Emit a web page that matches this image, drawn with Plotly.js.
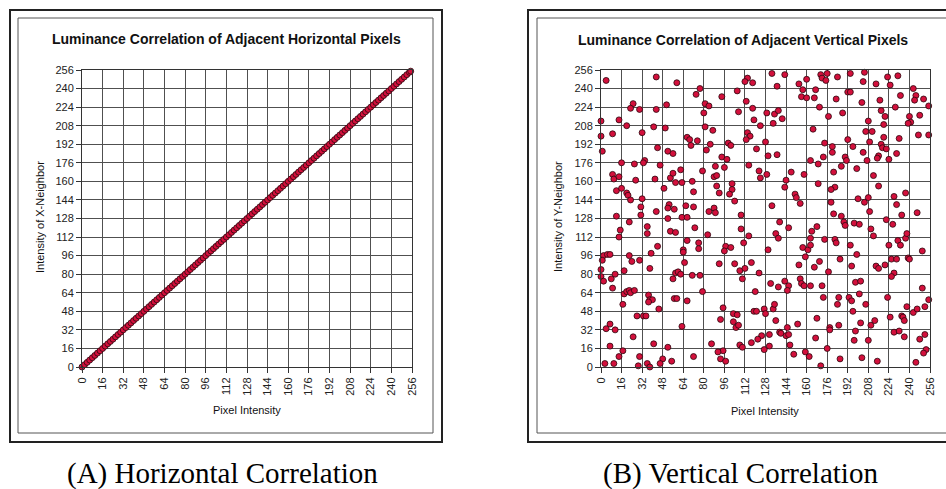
<!DOCTYPE html>
<html>
<head>
<meta charset="utf-8">
<script src="https://cdn.plot.ly/plotly-3.0.1.min.js"></script>
<style>
html,body{margin:0;padding:0;background:#fff;}
#chart{width:946px;height:489px;}
</style>
</head>
<body>
<div id="chart"></div>
<script>
// ---------- DATA ----------
const tickValues = [0,16,32,48,64,80,96,112,128,144,160,176,192,208,224,240,256];
const tickLabels = ["0","16","32","48","64","80","96","112","128","144","160","176","192","208","224","240","256"];

const titleA = "Luminance Correlation of Adjacent Horizontal Pixels";
const titleB = "Luminance Correlation of Adjacent Vertical Pixels";
const xTitle = "Pixel Intensity";
const yTitleA = "Intensity of X-Neighbor";
const yTitleB = "Intensity of Y-Neighbor";
const captionA = "(A) Horizontal Correlation";
const captionB = "(B) Vertical Correlation";

// Horizontal neighbours (points lie on the diagonal)
const hPixel = [0,2,4,6,8,10,12,14,16,18,20,22,24,26,28,30,32,34,36,38,40,42,44,46,48,50,52,54,56,58,60,62,64,66,68,70,72,74,76,78,80,82,84,86,88,90,92,94,96,98,100,102,104,106,108,110,112,114,116,118,120,122,124,126,128,130,132,134,136,138,140,142,144,146,148,150,152,154,156,158,160,162,164,166,168,170,172,174,176,178,180,182,184,186,188,190,192,194,196,198,200,202,204,206,208,210,212,214,216,218,220,222,224,226,228,230,232,234,236,238,240,242,244,246,248,250,252,254,255];
const hNeighbor = [0,2,4,6,8,10,12,14,16,18,20,22,24,26,28,30,32,34,36,38,40,42,44,46,48,50,52,54,56,58,60,62,64,66,68,70,72,74,76,78,80,82,84,86,88,90,92,94,96,98,100,102,104,106,108,110,112,114,116,118,120,122,124,126,128,130,132,134,136,138,140,142,144,146,148,150,152,154,156,158,160,162,164,166,168,170,172,174,176,178,180,182,184,186,188,190,192,194,196,198,200,202,204,206,208,210,212,214,216,218,220,222,224,226,228,230,232,234,236,238,240,242,244,246,248,250,252,254,255];

// Vertical neighbours (scattered)
const vPixel = [
4,43,59,77,74,25,23,30,43,51,0,14,20,41,50,32,9,0,67,69,75,70,1,44,52,56,16,26,34,33,46,62,9,10,14,27,42,54,56,58,63,71,12,16,20,21,23,32,49,72,31,53,52,57,66,72,
133,143,114,112,118,137,154,160,157,156,160,
106,94,81,84,113,80,107,118,129,135,138,141,134,119,124,
81,87,114,116,113,128,99,101,85,82,121,94,98,130,137,
79,89,96,115,123,124,129,148,158,
88,90,90,102,102,100,92,104,144,143,151,152,155,133,88,
171,172,175,176,184,194,205,204,214,223,231,225,243,245,244,251,255,233,
167,166,170,183,192,194,203,217,229,188,177,218,221,240,248,241,239,208,220,
165,206,211,220,232,247,255,192,209,174,180,180,196,218,219,222,204,230,216,215,224,190,191,207,173,163,169,187,181,199,212,
169,182,179,216,200,205,208,179,228,237,230,
12,31,43,22,36,36,52,63,67,54,58,73,15,14,67,76,76,44,39,64,64,65,
2,5,7,1,22,24,30,38,0,18,0,2,8,11,58,60,62,56,71,
9,18,20,22,23,26,37,38,40,37,17,45,57,59,67,
28,33,35,7,4,11,63,25,41,7,17,14,30,52,48,55,72,3,10,29,36,38,46,
84,89,109,139,146,109,115,111,136,138,83,
77,79,97,96,101,130,157,161,159,
92,104,108,112,117,110,123,154,
132,138,143,146,145,155,156,158,120,
95,119,121,127,128,134,135,93,103,106,103,105,107,136,153,
145,139,140,144,146,147,131,125,122,117,131,127,108,110,86,95,91,93,97,150,159,162,
181,187,189,190,197,201,209,222,227,234,246,
164,163,163,168,174,182,183,194,210,212,224,231,233,237,238,250,
170,166,177,186,199,195,214,216,221,226,230,228,226,239,240,
163,172,198,202,250,173,185,184,193,195,201,206,223,
196,168,185,202,210,213,225,238,234,235,236,243,246,252,255,
178,178,167,198,197,208,228,232,236,248,252,
176,171,186,203,215,253,251,245
];
const vNeighbor = [
247,250,245,240,235,227,223,222,222,226,212,213,208,207,206,202,201,199,198,196,195,191,186,189,186,184,176,175,178,176,174,170,166,162,164,161,162,163,167,159,159,160,152,154,150,148,144,145,154,151,138,140,137,136,139,138,
253,252,249,246,245,242,244,248,239,233,232,
238,233,227,225,229,219,220,223,219,218,221,214,210,213,208,
207,204,202,199,196,194,193,191,192,187,188,181,179,182,183,
169,173,172,174,169,163,166,168,166,
164,165,156,158,153,149,150,143,161,155,149,146,141,139,137,
252,249,247,253,250,253,254,246,244,250,251,243,240,234,230,231,225,234,
239,232,224,231,237,237,228,230,224,219,216,221,216,216,217,211,210,212,209,
205,203,203,198,197,200,200,196,194,193,190,185,190,192,189,188,185,184,182,180,179,181,178,178,181,178,175,173,168,171,165,
158,155,153,156,145,142,146,142,147,150,140,
130,131,134,125,121,115,128,129,129,117,116,120,118,112,109,107,102,104,98,101,99,90,
96,97,97,92,96,91,92,85,84,83,78,74,76,80,81,82,80,76,79,
68,63,65,66,64,66,62,58,58,56,54,50,59,59,57,
44,44,44,37,33,32,35,26,20,18,14,9,9,17,7,5,9,3,3,1,3,0,3,
134,133,131,125,120,119,113,107,115,111,114,
79,65,104,100,103,101,103,101,95,
89,89,83,85,90,76,81,88,
72,69,74,70,66,76,72,70,65,
51,48,48,50,46,50,54,41,46,45,39,34,36,40,37,
34,30,29,27,28,19,28,27,24,21,18,15,19,17,20,14,13,7,5,11,13,9,
132,130,125,122,124,123,134,127,123,131,133,
117,111,105,121,110,110,107,105,119,113,105,109,105,111,115,100,
91,86,82,93,97,87,87,85,88,93,93,81,78,94,93,
70,70,73,74,68,60,60,54,60,57,63,54,60,
48,42,36,38,36,40,43,52,44,43,40,47,50,52,58,
34,32,25,31,23,23,30,31,26,24,28,
16,1,7,8,5,15,12,4
];

// ---------- LAYOUT HELPERS (pixel -> paper) ----------
const W = 946, H = 489;
const fx = p => p / W;
const fy = p => 1 - p / H;

const SANS = "Liberation Sans, Arial, Helvetica, sans-serif";
const SERIF = "Liberation Serif, Times New Roman, serif";
const GRID = "#505050";

function axis(domain, anchor, isX) {
  return {
    domain: domain,
    anchor: anchor,
    range: [0, 256],
    autorange: false,
    fixedrange: true,
    tickmode: "array",
    tickvals: tickValues,
    ticktext: tickLabels,
    tickangle: isX ? -90 : 0,
    ticks: "outside",
    ticklen: 5,
    tickwidth: 1,
    tickcolor: "#333",
    tickfont: {family: SANS, size: 11, color: "#222"},
    showgrid: true,
    gridcolor: GRID,
    gridwidth: 1,
    zeroline: false,
    showline: true,
    linecolor: "#333",
    linewidth: 1,
    mirror: true
  };
}

const markerStyle = {
  size: 6,
  color: "#d3103c",
  line: {color: "#2a060d", width: 0.8}
};

const traces = [
  {
    type: "scatter", mode: "markers",
    x: hPixel, y: hNeighbor,
    xaxis: "x", yaxis: "y",
    marker: markerStyle,
    cliponaxis: false,
    hoverinfo: "x+y"
  },
  {
    type: "scatter", mode: "markers",
    x: vPixel, y: vNeighbor,
    xaxis: "x2", yaxis: "y2",
    marker: markerStyle,
    cliponaxis: false,
    hoverinfo: "x+y"
  }
];

const yDom = [fy(367), fy(70)];

function rect(x0, y0, x1, y1, color, width) {
  return {
    type: "rect", xref: "paper", yref: "paper",
    x0: fx(x0), x1: fx(x1), y0: fy(y1), y1: fy(y0),
    line: {color: color, width: width},
    fillcolor: "rgba(0,0,0,0)",
    layer: "below"
  };
}

function note(text, xp, yp, size, opts) {
  return Object.assign({
    text: text, xref: "paper", yref: "paper",
    x: fx(xp), y: fy(yp),
    xanchor: "center", yanchor: "middle",
    showarrow: false,
    font: {family: SANS, size: size, color: "#111"}
  }, opts || {});
}

const layout = {
  width: W, height: H,
  margin: {l: 0, r: 0, t: 0, b: 0, pad: 0},
  paper_bgcolor: "#ffffff",
  plot_bgcolor: "#ffffff",
  showlegend: false,
  xaxis: axis([fx(82), fx(412)], "y", true),
  yaxis: axis(yDom, "x", false),
  xaxis2: axis([fx(601), fx(930)], "y2", true),
  yaxis2: axis(yDom, "x2", false),
  shapes: [
    rect(10, 10, 442, 442, "#222", 2),
    rect(18, 18, 433, 433, "#555", 1),
    rect(528, 10, 966, 442, "#222", 2),
    rect(537, 18, 957, 433, "#555", 1)
  ],
  annotations: [
    note("<b>" + titleA + "</b>", 226, 39, 14),
    note("<b>" + titleB + "</b>", 743, 40, 14),
    note(xTitle, 247, 410, 11),
    note(xTitle, 765, 411, 11),
    note(yTitleA, 40, 217, 11, {textangle: -90}),
    note(yTitleB, 558, 217, 11, {textangle: -90}),
    note(captionA, 222, 473, 29, {font: {family: SERIF, size: 29, color: "#000"}}),
    note(captionB, 740, 473, 29, {font: {family: SERIF, size: 29, color: "#000"}})
  ]
};

Plotly.newPlot("chart", traces, layout, {staticPlot: true, displayModeBar: false});
</script>
</body>
</html>
